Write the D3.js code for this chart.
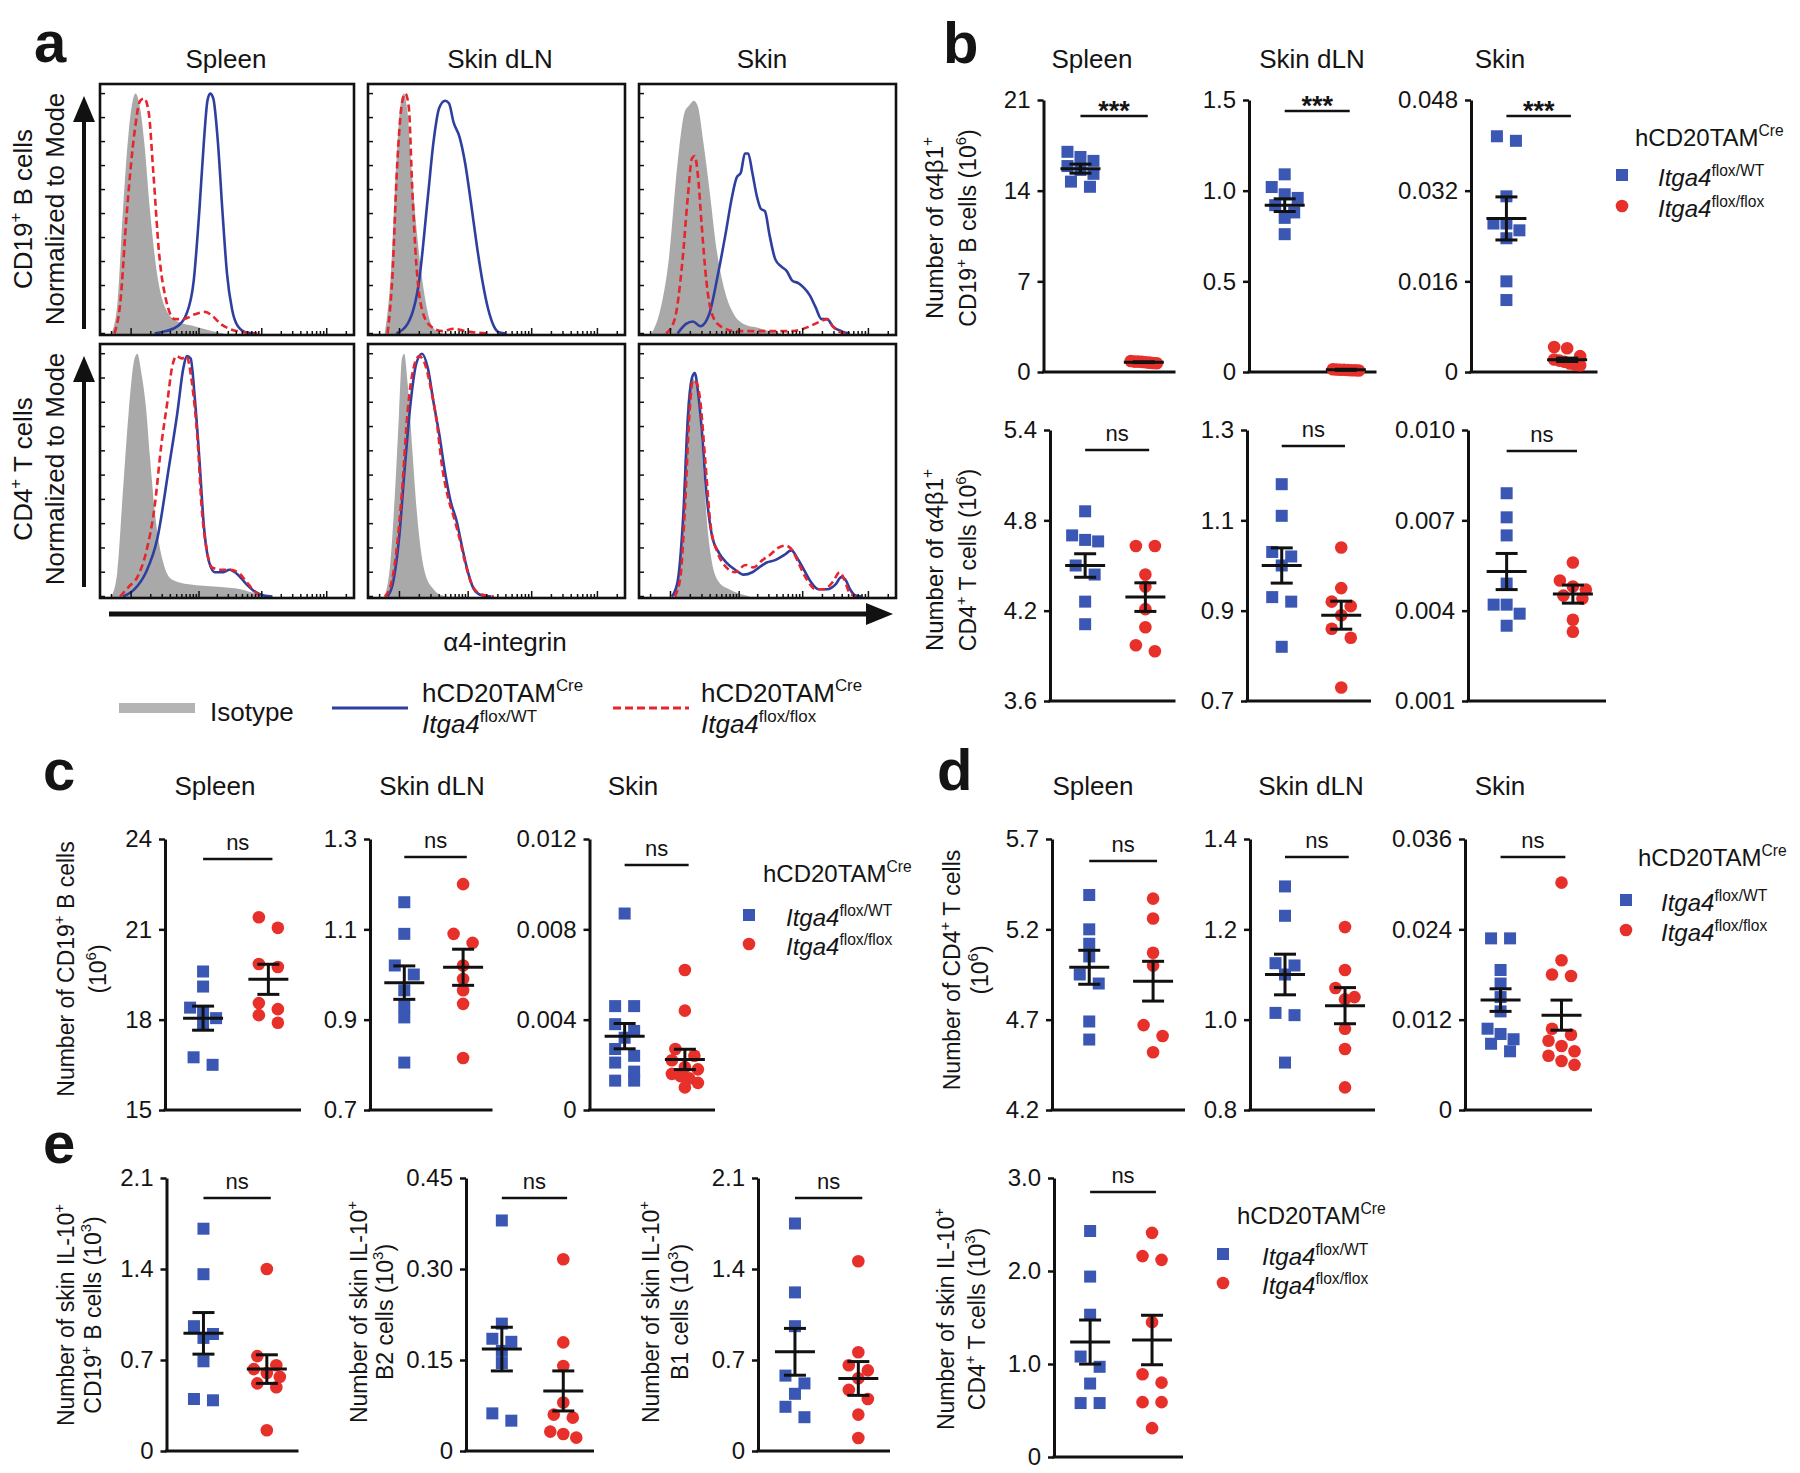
<!DOCTYPE html>
<html><head><meta charset="utf-8">
<script src="https://cdn.jsdelivr.net/npm/d3@7"></script>
<style>
body{margin:0;background:#fff;}
svg{display:block;}
text{font-family:"Liberation Sans",Arial,Helvetica,sans-serif;fill:#141414;}
</style>
</head><body>
<script>
// ---------------- DATA ----------------
// Panel a: histograms, [fluorescence position (% of axis), % of max]
const aSpleenB_iso = [[4.5,0],[6.8,12],[9,51],[11.3,84],[14,100],[15.8,94],[17.4,80],[19.7,51],[22.6,24],[26,10],[30.5,5],[37.3,3],[44,1],[48.6,0]];
const aSpleenB_wt = [[21.5,0],[26,1],[30.5,3],[34,8],[36.9,22],[39.1,51],[40.9,80],[42.3,97],[43.4,100],[44.6,98],[46.4,80],[48.2,51],[50,25],[52,10],[54.3,3],[57.7,0.4],[61,0]];
const aSpleenB_ko = [[5.7,0],[7.9,12],[10.6,51],[13.6,84],[15.8,97],[17.4,98],[19.2,92],[21,67],[23.3,33],[26,14],[29.4,6],[32.8,6],[37.3,8],[41.4,9],[44.6,7],[47.5,4],[50.9,2],[57.7,0.4],[62,0]];
const aDlnB_iso = [[6.5,0],[8.7,22],[11,71],[12.5,94],[13.9,100],[15.4,92],[17.2,65],[19.5,37],[21.7,18],[23.9,6],[26.6,1],[29,0]];
const aDlnB_wt = [[11,0],[15.4,4],[19.9,22],[23.3,57],[25.5,80],[27.7,94],[30,97],[31.5,96],[33.3,88],[35.6,82],[37.8,71],[40,55],[42.3,37],[44.5,22],[46.8,10],[49,3],[51.2,0.4],[53.5,0]];
const aDlnB_ko = [[7.6,0],[9.4,22],[11.4,71],[13.2,96],[14.5,100],[15.9,94],[17.2,61],[18.8,29],[21,10],[24.4,3],[28.9,1],[33.3,2],[37.8,1],[42,0.4],[46.8,0]];
const aSkinB_iso = [[4.9,0],[8.3,10],[11.6,31],[15,71],[17.7,92],[19.5,95],[21.3,97],[22.8,95],[25,80],[27.3,61],[30.2,35],[33.3,18],[36.9,8],[40.7,4],[46.3,2.4],[50.8,1],[55.3,0]];
const aSkinB_wt = [[15,0],[18.3,4],[21,5],[23.9,3],[27.3,8],[30.6,24],[33.6,41],[36.2,57],[38,65],[39.6,67],[41.2,75],[42.5,75],[44.1,67],[45.9,57],[47.4,52],[49,51],[50.8,41],[53,31],[55.3,28],[57.5,26],[59.7,22],[62,21],[64.2,19],[66.4,16],[68.7,11],[71,6],[73.2,6],[75.4,3],[78.7,1],[82,0]];
const aSkinB_ko = [[10.5,0],[13.9,6],[16.8,29],[19,57],[20.6,73],[21.7,74],[23,65],[24.4,45],[26.2,22],[28.4,8],[31.8,3],[37.4,1],[46.3,1],[59.7,1],[66.4,3],[70.5,5],[73.2,6],[75.4,3],[78.7,0.4],[82,0]];
const aSpleenT_iso = [[4.5,0],[6.8,10],[9,43],[11.3,76],[13.6,98],[14.7,100],[16.3,92],[18.1,78],[19.7,57],[22,31],[24.9,14],[28.3,7],[35,5],[46.4,4],[55.4,3],[62,1],[66.7,0]];
const aSpleenT_wt = [[9,0],[13.6,3],[18.1,10],[22.6,24],[27.1,53],[30.5,76],[32.8,94],[34.2,99],[35.7,98],[37.3,82],[39.1,57],[40.9,29],[43,14],[45.2,10],[48.6,10],[50.9,11],[54.3,9],[57.7,5],[61,2],[64.5,0.4],[67.9,0]];
const aSpleenT_ko = [[7.9,0],[11.3,4],[14.7,8],[18.1,18],[21.5,37],[24.2,63],[26.5,80],[28.3,94],[30.1,99],[32.4,98],[34,99],[36.2,88],[38.5,63],[40,37],[41.9,20],[44.1,12],[47.5,11],[50.9,11],[54.3,10],[57.7,6],[61,2],[63.3,0]];
const aDlnT_iso = [[6.5,0],[8.7,14],[10.5,43],[12.1,76],[13.2,98],[14.1,100],[15.4,88],[17.2,61],[19.5,29],[22.1,10],[25.5,3],[28.9,0.4],[31,0]];
const aDlnT_wt = [[7.6,0],[9.8,6],[12.1,24],[14.3,53],[16.6,80],[18.8,96],[21,100],[23.3,94],[25.5,80],[27.7,67],[30,51],[32.2,39],[34.5,31],[36.7,20],[38.9,10],[41.2,3],[44.5,0.4],[48,0]];
const aDlnT_ko = [[6.5,0],[8.7,4],[11,18],[13.2,43],[15.4,76],[17.7,94],[19.9,99],[22.1,96],[24.4,86],[26.6,73],[28.9,53],[31.1,41],[33.3,33],[35.6,24],[37.8,14],[40,6],[42.3,2],[45.6,0.4],[49,0]];
const aSkinT_iso = [[13.9,0],[16.1,14],[17.7,53],[19,82],[20.6,90],[22.1,88],[23.5,76],[25,53],[26.6,29],[28.4,14],[31.1,6],[35.1,3],[39.6,1],[43,0]];
const aSkinT_wt = [[12.8,0],[15,6],[17.2,33],[19,73],[20.6,90],[21.7,92],[23,84],[24.4,69],[26.2,43],[28.4,25],[31.1,18],[34,14],[37.4,11],[40.7,9],[44.1,10],[46.8,12],[49.7,14],[53,15],[56.4,17],[59.3,19],[61.5,16],[64.2,11],[66.9,6],[69.8,3],[73.2,3],[76.5,5],[78.7,8],[80.3,7],[82.1,3],[84.3,0.4],[86.6,0]];
const aSkinT_ko = [[13.9,0],[16.1,8],[17.9,37],[19.5,73],[21,89],[22.4,88],[23.9,80],[25.7,57],[27.9,29],[30.6,18],[34,12],[37.4,10],[41.4,13],[44.5,12],[48,15],[50.8,17],[54.1,20],[57,21],[59.7,19],[62.4,13],[65.3,7],[68.7,3],[72,3],[75.4,6],[78.1,10],[79.9,7],[81.7,2],[84.3,0]];

const tissues = ["Spleen","Skin dLN","Skin"];

// Panel b (10^6): values per mouse; stats = [meanWT, semWT, meanKO, semKO]
const bSpleenB_WT = [17.0,16.6,16.3,15.9,15.6,15.3,14.7,14.3];
const bSpleenB_KO = [0.85,0.8,0.78,0.75,0.72,0.7,0.68,0.8];
const bSpleenB_stats = [15.7,0.35,0.76,0.03];
const bSpleenB_ticks = ["0","7","14","21"];
const bDlnB_WT = [1.09,1.02,0.98,0.96,0.92,0.88,0.85,0.76];
const bDlnB_KO = [0.015,0.012,0.01,0.01,0.014,0.008,0.011,0.012];
const bDlnB_stats = [0.92,0.035,0.012,0.003];
const bDlnB_ticks = ["0","0.5","1.0","1.5"];
const bSkinB_WT = [0.0416,0.0408,0.031,0.0262,0.0262,0.025,0.0236,0.016,0.0127];
const bSkinB_KO = [0.0044,0.0042,0.0028,0.0022,0.0018,0.0015,0.0013,0.0012,0.002];
const bSkinB_stats = [0.0271,0.0038,0.00215,0.0003];
const bSkinB_ticks = ["0","0.016","0.032","0.048"];
const bSpleenT_WT = [4.86,4.70,4.67,4.66,4.50,4.44,4.26,4.11];
const bSpleenT_KO = [4.63,4.63,4.44,4.36,4.21,4.09,3.97,3.93];
const bSpleenT_stats = [4.5,0.078,4.29,0.095];
const bSpleenT_ticks = ["3.6","4.2","4.8","5.4"];
const bDlnT_WT = [1.18,1.11,1.03,1.02,1.0,0.93,0.92,0.82];
const bDlnT_KO = [1.04,0.95,0.92,0.91,0.89,0.86,0.84,0.73];
const bDlnT_stats = [1.0,0.039,0.89,0.031];
const bDlnT_ticks = ["0.7","0.9","1.1","1.3"];
const bSkinT_WT = [0.0079,0.0071,0.0065,0.0049,0.0042,0.0042,0.0039,0.0035];
const bSkinT_KO = [0.0056,0.0050,0.0048,0.0047,0.0045,0.0044,0.0037,0.0033];
const bSkinT_stats = [0.0053,0.0006,0.00455,0.0003];
const bSkinT_ticks = ["0.001","0.004","0.007","0.010"];

// Panel c: CD19+ B cells (10^6)
const cSpleen_WT = [19.6,19.1,18.4,18.25,18.05,17.85,16.75,16.5];
const cSpleen_KO = [21.4,21.05,19.85,19.75,18.55,18.35,18.15,17.9];
const cSpleen_stats = [18.05,0.4,19.34,0.5];
const cSpleen_ticks = ["15","18","21","24"];
const cDln_WT = [1.16,1.09,1.02,1.0,0.965,0.93,0.905,0.805];
const cDln_KO = [1.2,1.09,1.07,1.02,0.99,0.965,0.935,0.815];
const cDln_stats = [0.982,0.037,1.016,0.04];
const cDln_ticks = ["0.7","0.9","1.1","1.3"];
const cSkin_WT = [0.0087,0.0046,0.0046,0.0038,0.0035,0.0032,0.0027,0.0024,0.0021,0.0017,0.0013,0.0013];
const cSkin_KO = [0.0062,0.0044,0.0027,0.0024,0.0022,0.0019,0.0018,0.0016,0.0015,0.0014,0.0012,0.001];
const cSkin_stats = [0.00327,0.00056,0.00224,0.00045];
const cSkin_ticks = ["0","0.004","0.008","0.012"];

// Panel d: CD4+ T cells (10^6)
const dSpleen_WT = [5.39,5.2,5.12,5.05,4.95,4.9,4.69,4.59];
const dSpleen_KO = [5.37,5.26,5.07,5.0,4.67,4.61,4.52];
const dSpleen_stats = [4.99,0.094,4.913,0.11];
const dSpleen_ticks = ["4.2","4.7","5.2","5.7"];
const dDln_WT = [1.295,1.23,1.125,1.12,1.10,1.015,1.01,0.905];
const dDln_KO = [1.205,1.11,1.07,1.05,1.045,0.98,0.935,0.85];
const dDln_stats = [1.1,0.045,1.031,0.04];
const dDln_ticks = ["0.8","1.0","1.2","1.4"];
const dSkin_WT = [0.0228,0.0228,0.0186,0.0168,0.015,0.0131,0.0108,0.0101,0.0094,0.0088,0.0078];
const dSkin_KO = [0.0302,0.0199,0.0180,0.0178,0.0108,0.0100,0.0092,0.0085,0.0078,0.0072,0.0065,0.006];
const dSkin_stats = [0.0146,0.0015,0.0126,0.002];
const dSkin_ticks = ["0","0.012","0.024","0.036"];

// Panel e: skin IL-10+ cells (10^3)
const eB_WT = [1.71,1.36,0.96,0.90,0.87,0.69,0.40,0.39];
const eB_KO = [1.40,0.73,0.66,0.63,0.60,0.57,0.52,0.49,0.16];
const eB_stats = [0.905,0.16,0.63,0.11];
const eB_ticks = ["0","0.7","1.4","2.1"];
const eB2_WT = [0.38,0.21,0.185,0.18,0.165,0.145,0.062,0.05];
const eB2_KO = [0.316,0.179,0.14,0.08,0.06,0.055,0.032,0.028,0.022];
const eB2_stats = [0.168,0.036,0.099,0.033];
const eB2_ticks = ["0","0.15","0.30","0.45"];
const eB1_WT = [1.75,1.22,0.96,0.58,0.52,0.44,0.34,0.26];
const eB1_KO = [1.46,0.76,0.66,0.62,0.56,0.47,0.40,0.28,0.10];
const eB1_stats = [0.763,0.18,0.558,0.13];
const eB1_ticks = ["0","0.7","1.4","2.1"];
const eT_WT = [2.43,1.94,1.53,1.08,0.97,0.79,0.58,0.58];
const eT_KO = [2.41,2.12,2.16,1.45,0.89,0.80,0.59,0.59,0.31];
const eT_stats = [1.236,0.237,1.258,0.266];
const eT_ticks = ["0","1.0","2.0","3.0"];

// ---------------- DRAWING ----------------
const BLUE = "#3a57b3", RED = "#e8302b", HBLUE = "#2e3f9f", HRED = "#e6262c", GRAY = "#a9a9a9";
const svg = d3.select("body").append("svg").attr("width", 1800).attr("height", 1473);

function rich(parent, parts, attrs, fs) {
  const t = parent.append("text").attr("font-size", fs);
  for (const k in attrs) t.attr(k, attrs[k]);
  let shift = 0;
  parts.forEach(p => {
    const [s, st] = typeof p === "string" ? [p, ""] : p;
    const ts = t.append("tspan").text(s);
    const sup = st.includes("s");
    const ns = sup ? -fs * 0.42 : 0;
    if (ns !== shift) ts.attr("dy", ns - shift);
    shift = ns;
    if (sup) ts.attr("font-size", fs * 0.65);
    if (st.includes("i")) ts.attr("font-style", "italic");
  });
  return t;
}
function plainText(x, y, s, fs, anchor, extra) {
  const t = svg.append("text").attr("x", x).attr("y", y).attr("font-size", fs)
    .attr("text-anchor", anchor || "start").text(s);
  if (extra) for (const k in extra) t.attr(k, extra[k]);
  return t;
}
function vlabel(cx, cy, parts, fs) {
  return rich(svg, parts, {transform: `translate(${cx},${cy}) rotate(-90)`, "text-anchor": "middle"}, fs);
}

// panel letters
[["a",34,62],["b",943,63],["c",43,790],["d",937,790],["e",43,1163]].forEach(([l,x,y]) =>
  plainText(x, y, l, 58, "start", {"font-weight": "bold"}));

// ---------- Panel a ----------
const histCols = [[100,354],[368,625],[639,896]];
const histRows = [[84,335],[344,598]];
const histData = [
  [[aSpleenB_iso,aSpleenB_wt,aSpleenB_ko],[aDlnB_iso,aDlnB_wt,aDlnB_ko],[aSkinB_iso,aSkinB_wt,aSkinB_ko]],
  [[aSpleenT_iso,aSpleenT_wt,aSpleenT_ko],[aDlnT_iso,aDlnT_wt,aDlnT_ko],[aSkinT_iso,aSkinT_wt,aSkinT_ko]]
];
const aTitleX = [226,500,762];
tissues.forEach((t,i) => plainText(aTitleX[i], 68, t, 26, "middle"));

let clipId = 0;
histRows.forEach(([y0,y1], r) => {
  histCols.forEach(([x0,x1], c) => {
    const [iso, wt, ko] = histData[r][c];
    const x = d3.scaleLinear().domain([0,100]).range([x0,x1]);
    const y = d3.scaleLinear().domain([0,104]).range([y1-1.5,y0]);
    const id = "clip" + (clipId++);
    svg.append("clipPath").attr("id", id).append("rect").attr("x", x0).attr("y", y0).attr("width", x1-x0).attr("height", y1-y0);
    const g = svg.append("g").attr("clip-path", `url(#${id})`);
    g.append("path").datum(iso).attr("fill", GRAY)
      .attr("d", d3.area().x(d=>x(d[0])).y0(y1).y1(d=>y(d[1])).curve(d3.curveMonotoneX));
    const line = d3.line().x(d=>x(d[0])).y(d=>y(d[1])).curve(d3.curveMonotoneX);
    g.append("path").datum(wt).attr("fill","none").attr("stroke",HBLUE).attr("stroke-width",2.6).attr("d", line);
    g.append("path").datum(ko).attr("fill","none").attr("stroke",HRED).attr("stroke-width",2.6)
      .attr("stroke-dasharray","7,4").attr("d", line);
    // ticks
    const tk = svg.append("g").attr("stroke","#111").attr("stroke-width",1.5);
    d3.range(0,101,10).forEach(v => {
      const yy = y(v);
      tk.append("line").attr("x1",x0).attr("x2",x0+5).attr("y1",yy).attr("y2",yy);
    });
    const sx = d3.scaleSymlog().constant(100).domain([-200,262144]).range([x0,x1]);
    const majors = [0,1e3,1e4,1e5];
    const minors = [-100,100,200,300,400,500,600,700,800,900];
    [1e3,1e4].forEach(b => d3.range(2,10).forEach(m => minors.push(b*m)));
    minors.push(2e5);
    majors.forEach(v => tk.append("line").attr("x1",sx(v)).attr("x2",sx(v)).attr("y1",y1).attr("y2",y1-7));
    minors.forEach(v => tk.append("line").attr("x1",sx(v)).attr("x2",sx(v)).attr("y1",y1).attr("y2",y1-4));
    svg.append("rect").attr("x",x0).attr("y",y0).attr("width",x1-x0).attr("height",y1-y0)
      .attr("fill","none").attr("stroke","#111").attr("stroke-width",2.6);
  });
});
// arrows
function arrowV(x, yBot, yTip) {
  svg.append("line").attr("x1",x).attr("x2",x).attr("y1",yBot).attr("y2",yTip+20).attr("stroke","#111").attr("stroke-width",4);
  svg.append("path").attr("d",`M${x-11},${yTip+26}L${x},${yTip}L${x+11},${yTip+26}Z`).attr("fill","#111");
}
arrowV(84, 329, 96);
arrowV(84, 587, 356);
svg.append("line").attr("x1",109).attr("x2",872).attr("y1",614).attr("y2",614).attr("stroke","#111").attr("stroke-width",5);
svg.append("path").attr("d","M866,603L893,614L866,625Z").attr("fill","#111");
plainText(505, 651, "\u03b14-integrin", 26, "middle");
vlabel(32, 209, ["CD19",["+","s"]," B cells"], 26);
vlabel(64, 209, ["Normalized to Mode"], 26);
vlabel(32, 469, ["CD4",["+","s"]," T cells"], 26);
vlabel(64, 469, ["Normalized to Mode"], 26);
// legend a
svg.append("rect").attr("x",119).attr("y",703).attr("width",76).attr("height",10).attr("fill","#b4b4b4");
plainText(210, 721, "Isotype", 26);
svg.append("line").attr("x1",332).attr("x2",408).attr("y1",708).attr("y2",708).attr("stroke",HBLUE).attr("stroke-width",3);
rich(svg, ["hCD20TAM",["Cre","s"]], {x:422, y:702}, 26);
rich(svg, [["Itga4","i"],["flox/WT","s"]], {x:422, y:733}, 26);
svg.append("line").attr("x1",613).attr("x2",689).attr("y1",708).attr("y2",708).attr("stroke",HRED).attr("stroke-width",3).attr("stroke-dasharray","8,4");
rich(svg, ["hCD20TAM",["Cre","s"]], {x:701, y:702}, 26);
rich(svg, [["Itga4","i"],["flox/flox","s"]], {x:701, y:733}, 26);

// ---------- scatter plots ----------
function swarm(vals, yScale, cx) {
  const pts = vals.map(v => ({v, py: yScale(v)})).sort((a,b) => a.py - b.py);
  const rows = [];
  pts.forEach(p => {
    const last = rows[rows.length-1];
    if (last && p.py - last[0].py < 11) last.push(p); else rows.push([p]);
  });
  rows.forEach(row => {
    const n = row.length;
    const sp = n > 1 ? Math.min(19, 26/(n-1)) : 0;
    row.forEach((p,i) => p.px = cx + (i - (n-1)/2) * sp);
  });
  return pts;
}
function scatter(p) {
  const vals = p.tk.map(Number);
  const y = d3.scaleLinear().domain([vals[0], vals[vals.length-1]]).range([p.bot, p.top]);
  const L = p.x1 - p.x0;
  const cW = p.x0 + 0.28*L, cK = p.x0 + 0.76*L;
  const ax = svg.append("g").attr("transform", `translate(${p.x0},0)`)
    .call(d3.axisLeft(y).tickValues(vals).tickFormat((d,i) => p.tk[i]).tickSize(6).tickSizeOuter(0).tickPadding(7));
  ax.select(".domain").attr("stroke","#111").attr("stroke-width",3);
  ax.selectAll(".tick line").attr("stroke","#111").attr("stroke-width",2.5);
  ax.selectAll(".tick text").attr("font-size",24).attr("font-family",null).attr("fill","#141414");
  svg.append("line").attr("x1",p.x0-1.5).attr("x2",p.x1).attr("y1",p.bot).attr("y2",p.bot).attr("stroke","#111").attr("stroke-width",3);
  swarm(p.wt, y, cW).forEach(d => svg.append("rect").attr("x",d.px-6).attr("y",d.py-6).attr("width",12).attr("height",12).attr("fill",BLUE));
  swarm(p.ko, y, cK).forEach(d => svg.append("circle").attr("cx",d.px).attr("cy",d.py).attr("r",6.3).attr("fill",RED));
  [[cW,p.st[0],p.st[1]],[cK,p.st[2],p.st[3]]].forEach(([cx,m,s]) => {
    const g = svg.append("g").attr("stroke","#111").attr("stroke-width",3);
    g.append("line").attr("x1",cx-20).attr("x2",cx+20).attr("y1",y(m)).attr("y2",y(m));
    g.append("line").attr("x1",cx).attr("x2",cx).attr("y1",y(m-s)).attr("y2",y(m+s));
    g.append("line").attr("x1",cx-11).attr("x2",cx+11).attr("y1",y(m-s)).attr("y2",y(m-s));
    g.append("line").attr("x1",cx-11).attr("x2",cx+11).attr("y1",y(m+s)).attr("y2",y(m+s));
  });
  const by = p.top + p.so;
  const bx0 = p.x0 + 0.28*L, bx1 = p.x0 + 0.79*L;
  svg.append("line").attr("x1",bx0).attr("x2",bx1).attr("y1",by).attr("y2",by).attr("stroke","#111").attr("stroke-width",2.6);
  if (p.sig === "***") plainText((bx0+bx1)/2, by+4, "***", 27, "middle", {"font-weight":"bold"});
  else plainText((bx0+bx1)/2, by-9, "ns", 22, "middle");
}

const scatterPlots = [
  {wt:bSpleenB_WT, ko:bSpleenB_KO, st:bSpleenB_stats, tk:bSpleenB_ticks, sig:"***", x0:1043.5, x1:1175.5, top:100, bot:372, so:16},
  {wt:bDlnB_WT, ko:bDlnB_KO, st:bDlnB_stats, tk:bDlnB_ticks, sig:"***", x0:1249, x1:1376.5, top:100, bot:372, so:11},
  {wt:bSkinB_WT, ko:bSkinB_KO, st:bSkinB_stats, tk:bSkinB_ticks, sig:"***", x0:1471, x1:1597.5, top:100, bot:372, so:16},
  {wt:bSpleenT_WT, ko:bSpleenT_KO, st:bSpleenT_stats, tk:bSpleenT_ticks, sig:"ns", x0:1050, x1:1175.5, top:430, bot:701, so:20},
  {wt:bDlnT_WT, ko:bDlnT_KO, st:bDlnT_stats, tk:bDlnT_ticks, sig:"ns", x0:1247, x1:1371, top:430, bot:701, so:16},
  {wt:bSkinT_WT, ko:bSkinT_KO, st:bSkinT_stats, tk:bSkinT_ticks, sig:"ns", x0:1468, x1:1606, top:430, bot:701, so:21},
  {wt:cSpleen_WT, ko:cSpleen_KO, st:cSpleen_stats, tk:cSpleen_ticks, sig:"ns", x0:165, x1:301, top:839, bot:1110, so:20},
  {wt:cDln_WT, ko:cDln_KO, st:cDln_stats, tk:cDln_ticks, sig:"ns", x0:370, x1:492.5, top:839, bot:1110, so:18},
  {wt:cSkin_WT, ko:cSkin_KO, st:cSkin_stats, tk:cSkin_ticks, sig:"ns", x0:589.5, x1:715, top:839, bot:1110, so:26},
  {wt:dSpleen_WT, ko:dSpleen_KO, st:dSpleen_stats, tk:dSpleen_ticks, sig:"ns", x0:1052, x1:1185, top:839, bot:1110, so:22},
  {wt:dDln_WT, ko:dDln_KO, st:dDln_stats, tk:dDln_ticks, sig:"ns", x0:1250, x1:1375, top:839, bot:1110, so:18},
  {wt:dSkin_WT, ko:dSkin_KO, st:dSkin_stats, tk:dSkin_ticks, sig:"ns", x0:1465, x1:1592, top:839, bot:1110, so:18},
  {wt:eB_WT, ko:eB_KO, st:eB_stats, tk:eB_ticks, sig:"ns", x0:166.5, x1:298.5, top:1178, bot:1451, so:20},
  {wt:eB2_WT, ko:eB2_KO, st:eB2_stats, tk:eB2_ticks, sig:"ns", x0:466, x1:594, top:1178, bot:1451, so:20},
  {wt:eB1_WT, ko:eB1_KO, st:eB1_stats, tk:eB1_ticks, sig:"ns", x0:758, x1:890, top:1178, bot:1451, so:20},
  {wt:eT_WT, ko:eT_KO, st:eT_stats, tk:eT_ticks, sig:"ns", x0:1054, x1:1183, top:1178, bot:1457, so:14}
];
scatterPlots.forEach(scatter);

// titles
[1092,1312,1500].forEach((x,i) => plainText(x, 68, tissues[i], 26, "middle"));
[215,432,633].forEach((x,i) => plainText(x, 795, tissues[i], 26, "middle"));
[1093,1311,1500].forEach((x,i) => plainText(x, 795, tissues[i], 26, "middle"));

// y labels
vlabel(943, 228, ["Number of \u03b14\u03b21",["+","s"]], 24);
vlabel(976, 228, ["CD19",["+","s"]," B cells (10",["6","s"],")"], 23);
vlabel(943, 560, ["Number of \u03b14\u03b21",["+","s"]], 24);
vlabel(976, 560, ["CD4",["+","s"]," T cells (10",["6","s"],")"], 23);
vlabel(74, 969, ["Number of CD19",["+","s"]," B cells"], 23);
vlabel(106, 969, ["(10",["6","s"],")"], 23);
vlabel(960, 970, ["Number of CD4",["+","s"]," T cells"], 23);
vlabel(988, 970, ["(10",["6","s"],")"], 23);
vlabel(74, 1315, ["Number of skin IL-10",["+","s"]], 23);
vlabel(101, 1315, ["CD19",["+","s"]," B cells (10",["3","s"],")"], 23);
vlabel(367, 1312, ["Number of skin IL-10",["+","s"]], 23);
vlabel(393, 1312, ["B2 cells (10",["3","s"],")"], 23);
vlabel(659, 1312, ["Number of skin IL-10",["+","s"]], 23);
vlabel(688, 1312, ["B1 cells (10",["3","s"],")"], 23);
vlabel(954, 1319, ["Number of skin IL-10",["+","s"]], 23);
vlabel(985, 1319, ["CD4",["+","s"]," T cells (10",["3","s"],")"], 23);

// scatter legends
function legend(tx, ty, mx, yb, yr, lx) {
  rich(svg, ["hCD20TAM",["Cre","s"]], {x:tx, y:ty}, 24);
  svg.append("rect").attr("x",mx-6).attr("y",yb-6).attr("width",12).attr("height",12).attr("fill",BLUE);
  svg.append("circle").attr("cx",mx).attr("cy",yr).attr("r",6.3).attr("fill",RED);
  rich(svg, [["Itga4","i"],["flox/WT","s"]], {x:lx, y:yb+11}, 24);
  rich(svg, [["Itga4","i"],["flox/flox","s"]], {x:lx, y:yr+11}, 24);
}
legend(1635, 146, 1622, 175, 206, 1658);
legend(763, 882, 749, 915, 944, 786);
legend(1638, 866, 1626, 900, 930, 1661);
legend(1237, 1224, 1223, 1254, 1283, 1262);
</script>
</body></html>
